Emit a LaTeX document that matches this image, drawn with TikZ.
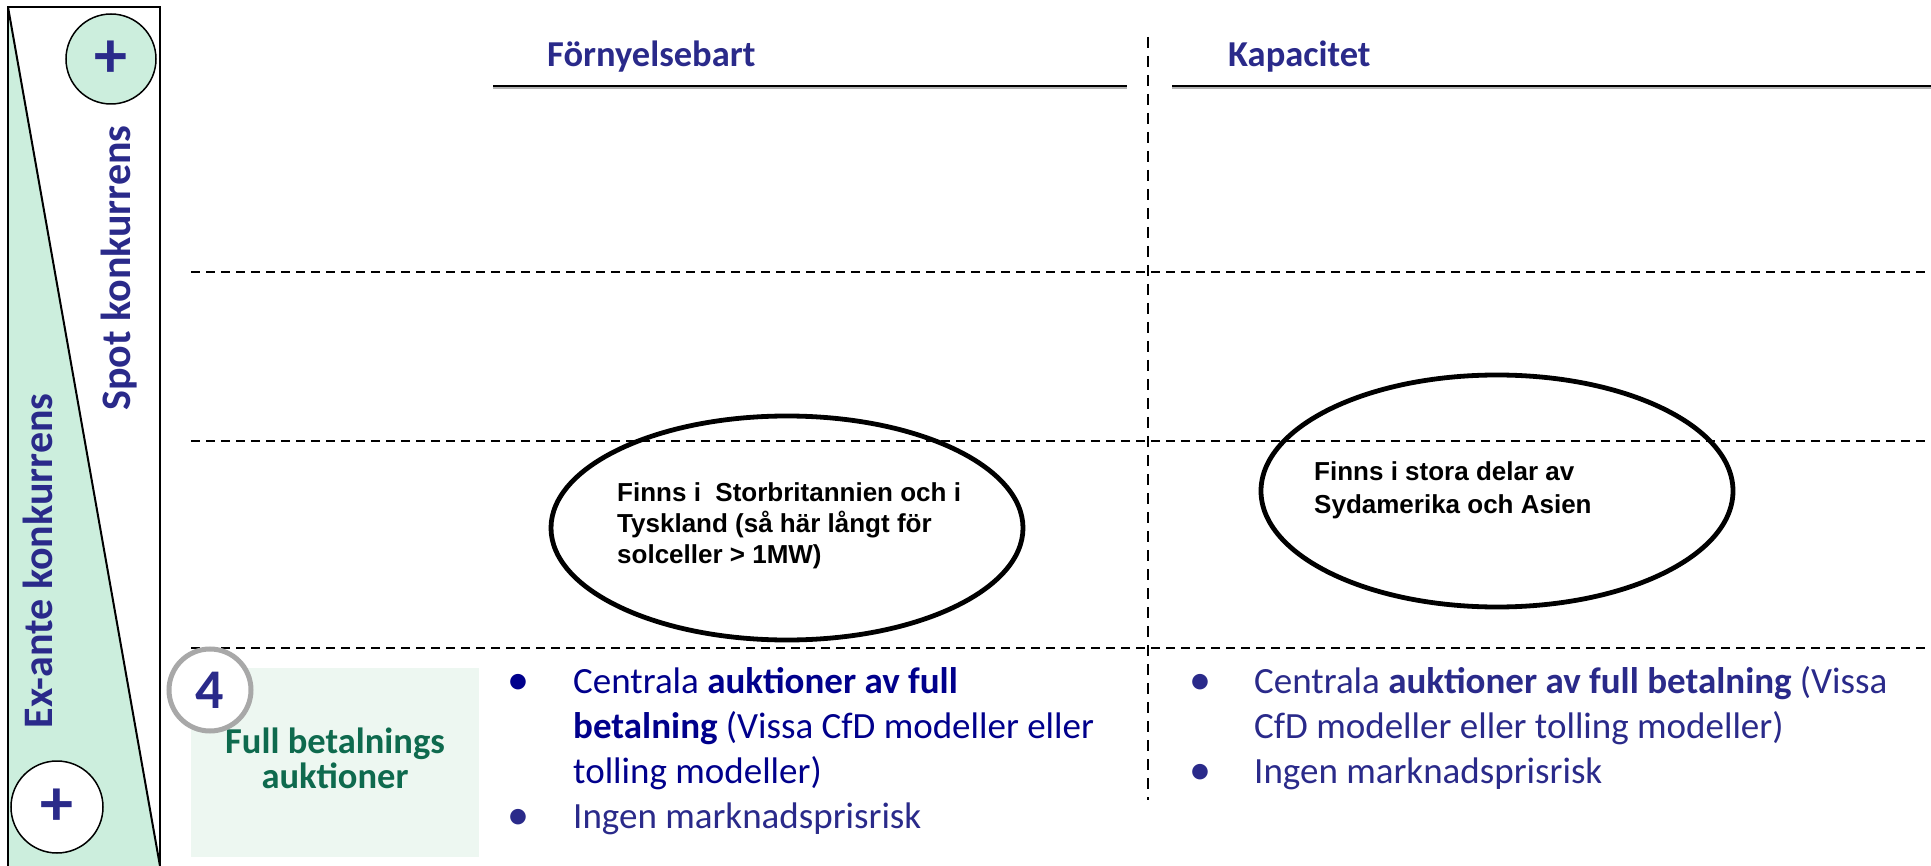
\documentclass[tikz,border=0pt]{standalone}
\usepackage{fontspec}
\setmainfont{Carlito}
\newfontfamily\arialfont{Liberation Sans}
\usetikzlibrary{shapes.geometric}
\definecolor{mint}{RGB}{204,238,221}
\definecolor{palemint}{RGB}{237,247,241}
\definecolor{navyA}{RGB}{0,0,140}
\definecolor{navyB}{RGB}{42,42,138}
\definecolor{darkgreen}{RGB}{14,106,78}
\definecolor{ringgray}{RGB}{168,168,168}
\begin{document}
\begin{tikzpicture}[x=1pt,y=-1pt,
  hdash/.style={black, line width=1.5pt, dash pattern=on 9pt off 6pt},
  vdash/.style={black, line width=1.5pt, dash pattern=on 11pt off 8pt},
  bodytext/.style={anchor=base west, inner sep=0pt, font=\fontsize{37}{45}\selectfont},
  bulletmark/.style={anchor=base, inner sep=0pt, font=\fontsize{44}{45}\selectfont},
  ovaltext/.style={anchor=base west, inner sep=0pt, font=\arialfont\bfseries\fontsize{26}{31}\selectfont},
  oval/.style={draw, ellipse, line width=4.8pt, inner sep=0pt},
  heading/.style={anchor=base west, inner sep=0pt, text=navyB, font=\bfseries\fontsize{36.5}{40}\selectfont},
  sidetext/.style={anchor=base, rotate=90, inner sep=0pt, text=navyB, font=\bfseries\fontsize{42}{42}\selectfont},
  plusnode/.style={circle, draw, line width=1.5pt, inner sep=0pt, text=navyB, font=\bfseries\fontsize{66}{66}\selectfont}
]
\useasboundingbox (0,0) rectangle (1931,866);
\fill[white] (0,0) rectangle (1931,866);

% left panel
\fill[mint] (8,7) -- (8,866) -- (160,866) -- cycle;
\draw[line width=2pt] (8,870) -- (8,7) -- (160,7) -- (160,870);
\draw[line width=2pt] (8,7) -- (160,866);
\node[plusnode, fill=mint, minimum size=90pt] (plustop) at (111,59) {+};
\node[plusnode, fill=white, minimum size=92pt] (plusbot) at (57,807) {+};
\node[sidetext] (spot) at (130,268) {Spot konkurrens};
\node[sidetext] (exante) at (52,561) {Ex-ante konkurrens};

% grid
\coordinate (h1a) at (191,272); \coordinate (h1b) at (1931,272);
\coordinate (h2a) at (191,441); \coordinate (h2b) at (1931,441);
\coordinate (h3a) at (191,648); \coordinate (h3b) at (1931,648);
\coordinate (v1a) at (1148,37); \coordinate (v1b) at (1148,800);
\draw[hdash] (h1a) -- (h1b);
\draw[hdash] (h2a) -- (h2b);
\draw[hdash] (h3a) -- (h3b);
\draw[vdash] (v1a) -- (v1b);

% headings
\coordinate (ula) at (493,86); \coordinate (ulb) at (1127,86);
\coordinate (ura) at (1172,86); \coordinate (urb) at (1931,86);
\draw[gray!60, line width=2pt] ([yshift=-2.5pt]ula) -- ([yshift=-2.5pt]ulb);
\draw[gray!60, line width=2pt] ([yshift=-2.5pt]ura) -- ([yshift=-2.5pt]urb);
\draw[black, line width=2.5pt] (ula) -- (ulb);
\draw[black, line width=2.5pt] (ura) -- (urb);
\node[heading] (hforn) at (547,67) {Förnyelsebart};
\node[heading] (hkap) at (1228,67) {Kapacitet};

% ellipses
\node[oval, minimum width=472pt, minimum height=224pt] (ovalL) at (787,528) {};
\node[oval, minimum width=472pt, minimum height=232pt] (ovalR) at (1497,491) {};
\node[ovaltext] (oL1) at (617,501) {Finns i\ \ Storbritannien och i};
\node[ovaltext] (oL2) at (617,532) {Tyskland (så här långt för};
\node[ovaltext] (oL3) at (617,563) {solceller > 1MW)};
\node[ovaltext] (oR1) at (1314,480) {Finns i stora delar av};
\node[ovaltext] (oR2) at (1314,513) {Sydamerika och Asien};

% full betalnings box
\node[fill=palemint, minimum width=288pt, minimum height=189pt, inner sep=0pt] (fbox) at (335,762.5) {};
\node[anchor=base, inner sep=0pt, text=darkgreen, font=\bfseries\fontsize{36.5}{36}\selectfont] (fb1) at (335,753) {Full betalnings};
\node[anchor=base, inner sep=0pt, text=darkgreen, font=\bfseries\fontsize{36.5}{36}\selectfont] (fb2) at (335,788) {auktioner};
\node[circle, draw=ringgray, line width=5pt, fill=white, minimum size=82pt, inner sep=0pt, text=navyB, font=\bfseries\fontsize{56}{56}\selectfont] (four) at (210,690) {4};

% left bullets
\node[bulletmark, text=navyA] (bL1) at (518,694) {•};
\node[bodytext, text=navyA] (tL1) at (573,693) {Centrala \textbf{auktioner av full}};
\node[bodytext, text=navyA] (tL2) at (573,738) {\textbf{betalning} (Vissa CfD modeller eller};
\node[bodytext, text=navyA] (tL3) at (573,783) {tolling modeller)};
\node[bulletmark, text=navyB] (bL2) at (518,829) {•};
\node[bodytext, text=navyB] (tL4) at (573,828) {Ingen marknadsprisrisk};

% right bullets
\node[bulletmark, text=navyB] (bR1) at (1200,694) {•};
\node[bodytext, text=navyB] (tR1) at (1254,693) {Centrala \textbf{auktioner av full betalning} (Vissa};
\node[bodytext, text=navyB] (tR2) at (1254,738) {CfD modeller eller tolling modeller)};
\node[bulletmark, text=navyB] (bR2) at (1200,784) {•};
\node[bodytext, text=navyB] (tR3) at (1254,783) {Ingen marknadsprisrisk};
\end{tikzpicture}
\end{document}
